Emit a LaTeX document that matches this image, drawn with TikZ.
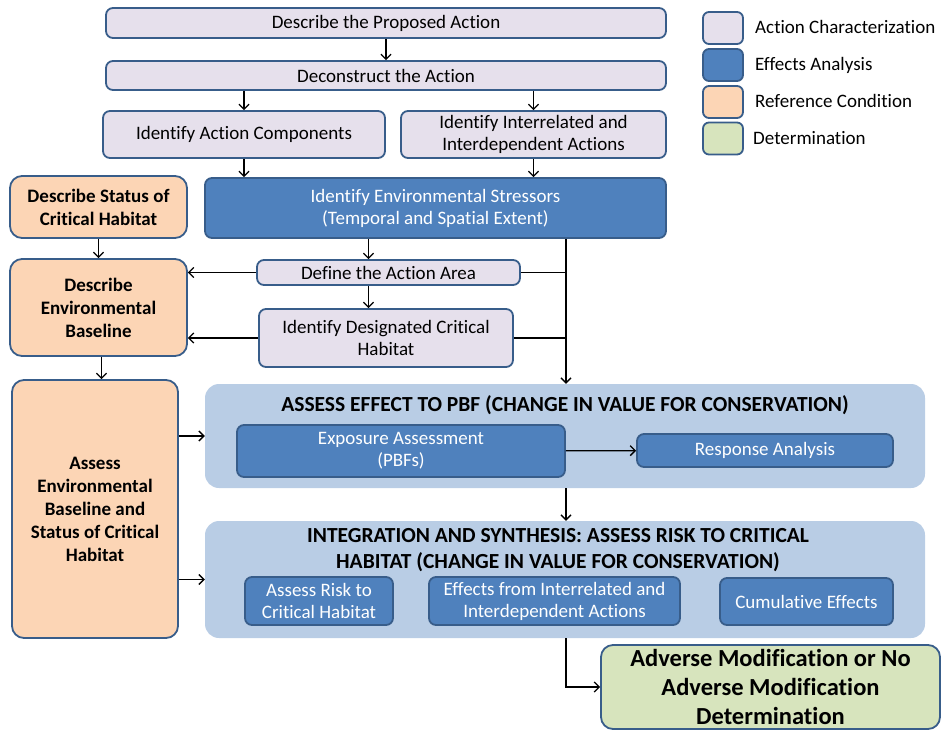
\documentclass[tikz,border=0pt]{standalone}
\usepackage{fontspec}
\setmainfont[Ligatures=NoCommon]{Carlito}
\usetikzlibrary{arrows.meta}
\definecolor{actfill}{HTML}{E6E0EC}
\definecolor{efffill}{HTML}{4F81BD}
\definecolor{reffill}{HTML}{FCD5B5}
\definecolor{detfill}{HTML}{D7E4BD}
\definecolor{panfill}{HTML}{B9CDE5}
\definecolor{edge}{HTML}{385D8A}
\tikzset{
  box/.style={draw=edge, line width=1.8pt, rounded corners=7pt, align=center, inner sep=0pt},
  act/.style={box, fill=actfill},
  eff/.style={box, fill=efffill, text=white},
  refcond/.style={box, fill=reffill, font=\bfseries\fontsize{19}{23}\selectfont, rounded corners=12pt},
  determ/.style={box, fill=detfill, font=\bfseries\fontsize{24.5}{29}\selectfont, rounded corners=12pt},
  panel/.style={fill=panfill, rounded corners=14pt, inner sep=0pt},
  key/.style={box, minimum width=40, minimum height=32, rounded corners=6pt},
  keytext/.style={anchor=west, inner sep=0pt, font=\fontsize{19}{22}\selectfont},
  wire/.style={line width=1.3pt},
  arr/.style={wire, -{Straight Barb[length=5pt,width=10pt,line width=1.3pt]}}
}
\begin{document}
\begin{tikzpicture}[x=1pt, y=-1pt, font=\fontsize{19}{22}\selectfont]
\useasboundingbox (0,0) rectangle (944,731);

% panels behind
\node[panel, minimum width=720, minimum height=104] (pbf) at (565,436) {};
\node[panel, minimum width=720, minimum height=117] (integ) at (565,579.5) {};
\node[font=\bfseries\fontsize{21.5}{24}\selectfont] (pbftitle) at (565,405) {ASSESS EFFECT TO PBF (CHANGE IN VALUE FOR CONSERVATION)};
\node[font=\bfseries\fontsize{21.5}{26}\selectfont, align=center] (integtitle) at (558,550) {INTEGRATION AND SYNTHESIS: ASSESS RISK TO CRITICAL\\HABITAT (CHANGE IN VALUE FOR CONSERVATION)};

% action characterization
\node[act, minimum width=560, minimum height=30] (prop) at (386,23) {Describe the Proposed Action};
\node[act, minimum width=560, minimum height=29] (decon) at (386,75.5) {Deconstruct the Action};
\node[act, minimum width=282, minimum height=47] (comp) at (244,134.5) {Identify Action Components};
\node[act, minimum width=265, minimum height=47] (inter) at (533.5,134.5) {Identify Interrelated and\\Interdependent Actions};
\node[act, minimum width=263, minimum height=25] (area) at (388.5,272.5) {Define the Action Area};
\node[act, minimum width=254, minimum height=58] (crit) at (386,338) {Identify Designated Critical\\Habitat};

% effects analysis
\node[eff, minimum width=461, minimum height=60] (stress) at (435.5,208) {Identify Environmental Stressors\\(Temporal and Spatial Extent)};
\node[eff, minimum width=328, minimum height=52] (expo) at (401,451) {Exposure Assessment\\(PBFs)};
\node[eff, minimum width=256, minimum height=33] (resp) at (765,450.5) {Response Analysis};
\node[eff, minimum width=148, minimum height=48] (risk) at (319,601) {Assess Risk to\\Critical Habitat};
\node[eff, minimum width=251, minimum height=48] (ieff) at (554.5,601) {Effects from Interrelated and\\Interdependent Actions};
\node[eff, minimum width=173, minimum height=47] (cumu) at (806.5,601.5) {Cumulative Effects};

% reference condition
\node[refcond, minimum width=177, minimum height=62] (status) at (98.5,207) {Describe Status of\\Critical Habitat};
\node[refcond, minimum width=177, minimum height=97] (base) at (98.5,307.5) {Describe\\Environmental\\Baseline};
\node[refcond, minimum width=166, minimum height=258] (assess) at (95,509) {Assess\\Environmental\\Baseline and\\Status of Critical\\Habitat};

% determination
\node[determ, minimum width=339, minimum height=84] (adverse) at (770.5,687) {Adverse Modification or No\\Adverse Modification\\Determination};

% legend
\node[key, fill=actfill] (k1) at (723,28) {};
\node[key, fill=efffill] (k2) at (723,65) {};
\node[key, fill=reffill] (k3) at (723,102) {};
\node[key, fill=detfill] (k4) at (723,138.5) {};
\node[keytext] (t1) at (755,27) {Action Characterization};
\node[keytext] (t2) at (755,65) {Effects Analysis};
\node[keytext] (t3) at (755,101) {Reference Condition};
\node[keytext, xshift=-2pt] (t4) at (755,138) {Determination};

% connectors
\coordinate (bus) at (566,0);
\draw[arr] (prop) -- (decon);
\draw[arr] (comp.north |- decon.south) -- (comp.north);
\draw[arr] (inter.north |- decon.south) -- (inter.north);
\draw[arr] (comp.south) -- (comp.south |- stress.north);
\draw[arr] (inter.south) -- (inter.south |- stress.north);
\draw[arr] (status) -- (status.south |- base.north);
\draw[arr] ([xshift=-20pt]area.north |- stress.south) -- ([xshift=-20pt]area.north);
\draw[arr] ([xshift=-20pt]area.south) -- ([xshift=-20pt]area.south |- crit.north);
\draw[arr] (area.west) -- (area.west -| base.east);
\draw[arr] (crit.west) -- (crit.west -| base.east);
\draw[arr] (stress.south -| bus) -- (pbf.north -| bus);
\draw[wire] (area.east) -- (area.east -| bus);
\draw[wire] (crit.east) -- (crit.east -| bus);
\draw[arr] ([xshift=3pt]base.south) -- ([xshift=3pt]base.south |- assess.north);
\draw[arr] (assess.east |- pbf.west) -- (pbf.west);
\draw[arr] (assess.east |- integ.west) -- (integ.west);
\draw[arr] (expo) -- (resp);
\draw[arr] (pbf.south -| bus) -- (integ.north -| bus);
\draw[arr] (integ.south -| bus) |- (adverse.west);

\end{tikzpicture}
\end{document}
